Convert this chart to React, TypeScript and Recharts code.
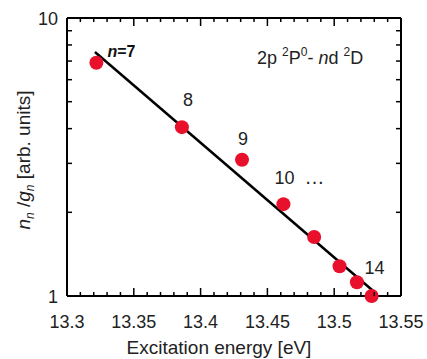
import React from 'react';
import { ComposedChart, Line, Scatter, XAxis, YAxis, ReferenceLine } from 'recharts';

const energies = [13.322, 13.386, 13.431, 13.462, 13.485, 13.504, 13.517, 13.528];
const intensities = [6.9, 4.05, 3.09, 2.14, 1.63, 1.28, 1.12, 1.0];
const pointLabels = ['n=7', '8', '9', '10', '', '', '', '14'];

const fitEnergies = [13.3209, 13.531];
const fitIntensities = [7.55, 1.025];

const xTicks = [
  13.3, 13.31, 13.32, 13.33, 13.34, 13.35, 13.36, 13.37, 13.38, 13.39,
  13.4, 13.41, 13.42, 13.43, 13.44, 13.45, 13.46, 13.47, 13.48, 13.49,
  13.5, 13.51, 13.52, 13.53, 13.54, 13.55,
];
const xTickLabels = ['13.3', '13.35', '13.4', '13.45', '13.5', '13.55'];
const yTicks = [1, 2, 3, 4, 5, 6, 7, 8, 9, 10];
const yTickLabels = ['1', '10'];

const W = 427;
const H = 359;
const M = { top: 18, right: 26, left: 0, bottom: 0 };
const Y_AXIS_W = 67;
const X_AXIS_H = 63;
const PLOT_W = W - M.left - M.right - Y_AXIS_W;
const PLOT_H = H - M.top - M.bottom - X_AXIS_H;

const FONT = '"Liberation Sans", Arial, Helvetica, sans-serif';
const RED = '#e8102a';

const points = energies.map((x, i) => ({ x, y: intensities[i], label: pointLabels[i] }));
const fit = fitEnergies.map((x, i) => ({ x, y: fitIntensities[i] }));

const XTick = (props: any) => {
  const { x, y, payload } = props;
  const lbl = xTickLabels.find((l) => Math.abs(parseFloat(l) - payload.value) < 1e-6);
  const len = lbl ? 8 : 4;
  return (
    <g>
      <line x1={x} x2={x} y1={y} y2={y - len} stroke="#000" strokeWidth={1.5} />
      <line x1={x} x2={x} y1={y - PLOT_H} y2={y - PLOT_H + len} stroke="#000" strokeWidth={1.5} />
      {lbl && (
        <text x={x} y={y + 32} textAnchor="middle" fontSize={18} fontFamily={FONT} fill="#222">
          {lbl}
        </text>
      )}
    </g>
  );
};

const YTick = (props: any) => {
  const { x, y, payload } = props;
  const lbl = yTickLabels.find((l) => Math.abs(parseFloat(l) - payload.value) < 1e-6);
  const len = 5;
  return (
    <g>
      {!lbl && <line x1={x} x2={x + len} y1={y} y2={y} stroke="#000" strokeWidth={1.5} />}
      {!lbl && <line x1={x + PLOT_W} x2={x + PLOT_W - len} y1={y} y2={y} stroke="#000" strokeWidth={1.5} />}
      {lbl && (
        <text x={x - 9} y={y + 7} textAnchor="end" fontSize={18} fontFamily={FONT} fill="#222">
          {lbl}
        </text>
      )}
    </g>
  );
};

const Dot = (props: any) => {
  const { cx, cy, payload } = props;
  const label = payload?.label;
  let txt: React.ReactNode = null;
  if (label === 'n=7') {
    txt = (
      <text x={cx + 11} y={cy - 6} fontSize={16} fontWeight="bold" fontFamily={FONT} fill="#111">
        <tspan fontStyle="italic">n</tspan>=7
      </text>
    );
  } else if (label === '10') {
    txt = (
      <g>
        <text x={cx + 1} y={cy - 20} textAnchor="middle" fontSize={18} fontFamily={FONT} fill="#222">10</text>
        <text x={cx + 21} y={cy - 20} fontSize={20} fontFamily={FONT} fill="#222" letterSpacing={1}>…</text>
      </g>
    );
  } else if (label) {
    const off: Record<string, [number, number]> = { '8': [6, -21], '9': [1, -15], '14': [3, -22] };
    const [dx, dy] = off[label] || [0, -18];
    txt = (
      <text x={cx + dx} y={cy + dy} textAnchor="middle" fontSize={18} fontFamily={FONT} fill="#222">
        {label}
      </text>
    );
  }
  return (
    <g>
      <circle cx={cx} cy={cy} r={7} fill={RED} />
      {txt}
    </g>
  );
};

export default function App() {
  return (
    <div style={{ position: 'absolute', left: 0, top: 0, width: W, height: H, background: '#fff' }}>
      <ComposedChart width={W} height={H} margin={M}>
        <XAxis
          dataKey="x"
          type="number"
          domain={[13.3, 13.55]}
          ticks={xTicks}
          interval={0}
          tick={<XTick />}
          tickLine={false}
          tickSize={0}
          tickMargin={0}
          height={X_AXIS_H}
          axisLine={{ stroke: '#000', strokeWidth: 2 }}
        />
        <YAxis
          dataKey="y"
          type="number"
          scale="log"
          domain={[1, 10]}
          ticks={yTicks}
          interval={0}
          tick={<YTick />}
          tickLine={false}
          tickSize={0}
          tickMargin={0}
          width={Y_AXIS_W}
          axisLine={{ stroke: '#000', strokeWidth: 2 }}
        />
        <ReferenceLine y={10} stroke="#000" strokeWidth={2} ifOverflow="visible" />
        <ReferenceLine x={13.55} stroke="#000" strokeWidth={2} ifOverflow="visible" />
        <Line data={fit} dataKey="y" stroke="#000" strokeWidth={2.5} dot={false} isAnimationActive={false} />
        <Scatter data={points} dataKey="y" shape={<Dot />} isAnimationActive={false} />
      </ComposedChart>
      <svg
        width={W}
        height={H}
        style={{ position: 'absolute', left: 0, top: 0, pointerEvents: 'none' }}
      >
        <text x={257} y={64} fontSize={18} fontFamily={FONT} fill="#222">
          2p <tspan fontSize={12} dy={-8}>2</tspan>
          <tspan dy={8}>P</tspan>
          <tspan fontSize={12} dy={-8}>0</tspan>
          <tspan dy={8}>- </tspan>
          <tspan fontStyle="italic">n</tspan>d <tspan fontSize={12} dy={-8}>2</tspan>
          <tspan dy={8}>D</tspan>
        </text>
        <text
          transform="translate(30,160) rotate(-90)"
          textAnchor="middle"
          fontSize={19}
          fontFamily={FONT}
          fill="#222"
        >
          <tspan fontStyle="italic">n</tspan>
          <tspan fontSize={12} fontStyle="italic" dy={4}>n</tspan>
          <tspan dy={-4}> /</tspan>
          <tspan fontStyle="italic">g</tspan>
          <tspan fontSize={12} fontStyle="italic" dy={4}>n</tspan>
          <tspan dy={-4}> [arb. units]</tspan>
        </text>
        <text x={219} y={354} textAnchor="middle" fontSize={19} fontFamily={FONT} fill="#222">
          Excitation energy [eV]
        </text>
      </svg>
    </div>
  );
}
